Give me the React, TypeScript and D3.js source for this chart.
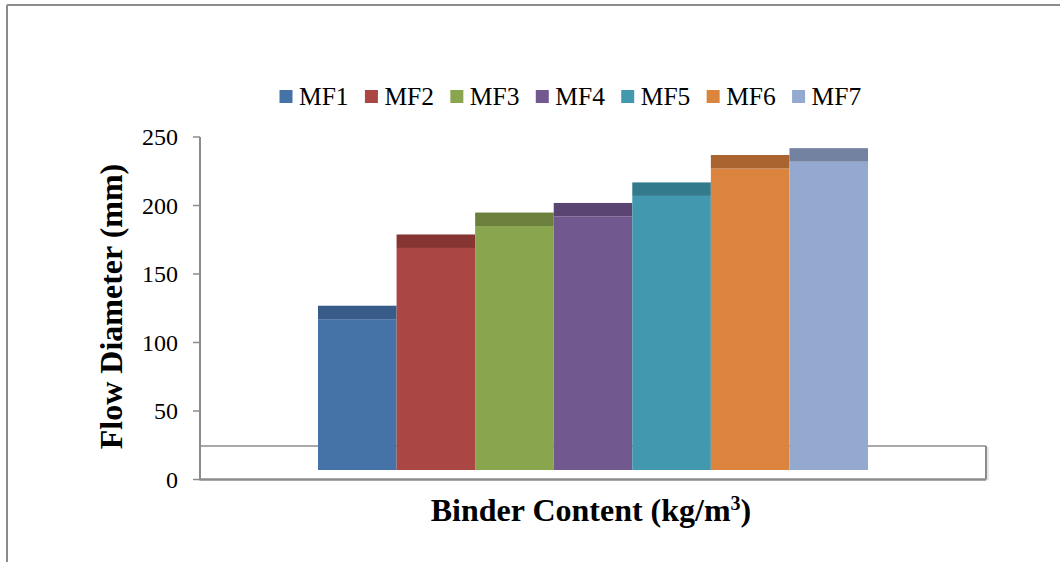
import React from "react";
import * as d3 from "d3";

const series = ["MF1", "MF2", "MF3", "MF4", "MF5", "MF6", "MF7"];
const values = [117, 169, 185, 192, 207, 227, 232];
const frontColors = ["#4572A7", "#AA4643", "#89A54E", "#71588F", "#4198AF", "#DB843D", "#93A9CF"];
const topColors = ["#385C89", "#873533", "#6B803C", "#5A4572", "#337A8C", "#AA6430", "#7282A0"];
const yTicks = [0, 50, 100, 150, 200, 250];

const W = 1060;
const H = 562;
const axisX = 200;
const floorRight = 986;
const floorBack = 446;
const barBottom = 470;
const depth = 13.5;
const font = "Liberation Serif";
const gray = "#8c8c8c";

export default function App() {
  const y = d3.scaleLinear().domain([0, 250]).range([479.5, 137]);
  const x = d3.scaleBand<string>().domain(series).range([318, 868]).padding(0);
  const legendX = d3.scaleBand<string>().domain(series).range([279.5, 877.5]).padding(0);

  return (
    <svg
      width={W}
      height={H}
      style={{ position: "absolute", left: 0, top: 0, background: "#fff" }}
    >
      {/* outer frame */}
      <line x1={7} y1={5} x2={W} y2={5} stroke={gray} strokeWidth={2} />
      <line x1={7} y1={5} x2={7} y2={H} stroke={gray} strokeWidth={2} />

      {/* floor */}
      <line x1={axisX} y1={floorBack} x2={floorRight} y2={floorBack} stroke={gray} strokeWidth={1.5} />
      <line x1={floorRight} y1={floorBack} x2={floorRight} y2={y(0)} stroke={gray} strokeWidth={2} />
      <line x1={floorRight + 2} y1={floorBack + 1} x2={floorRight + 2} y2={y(0) + 1} stroke="#d0d0d0" strokeWidth={1} />

      {/* bars */}
      {series.map((s, i) => {
        const x0 = x(s)!;
        const bw = x.bandwidth();
        const yt = y(values[i]);
        return (
          <g key={s}>
            <rect x={x0} y={yt} width={bw} height={barBottom - yt} fill={frontColors[i]} />
            <rect x={x0} y={yt - depth} width={bw} height={depth} fill={topColors[i]} />
          </g>
        );
      })}

      {/* y axis */}
      <line x1={axisX} y1={y(250)} x2={axisX} y2={y(0) + 1} stroke={gray} strokeWidth={2} />
      <line x1={axisX} y1={y(0)} x2={floorRight} y2={y(0)} stroke={gray} strokeWidth={2.5} />
      {yTicks.map((t) => (
        <g key={t}>
          <line x1={193} y1={y(t)} x2={axisX} y2={y(t)} stroke={gray} strokeWidth={1.5} />
          <text
            x={178}
            y={y(t) + 8}
            textAnchor="end"
            fontFamily={font}
            fontSize={24}
            fill="#000"
          >
            {t}
          </text>
        </g>
      ))}

      {/* legend */}
      {series.map((s, i) => {
        const lx = legendX(s)!;
        return (
          <g key={"lg" + s}>
            <rect x={lx} y={90} width={13} height={13} fill={frontColors[i]} />
            <text x={lx + 19.5} y={105} fontFamily={font} fontSize={25.5} fill="#000">
              {s}
            </text>
          </g>
        );
      })}

      {/* axis titles */}
      <text
        x={591}
        y={521}
        textAnchor="middle"
        fontFamily={font}
        fontSize={32}
        fontWeight="bold"
        fill="#000"
      >
        Binder Content (kg/m
        <tspan fontSize={20} dy={-11}>3</tspan>
        <tspan dy={11}>)</tspan>
      </text>
      <text
        transform={`translate(122, 306.5) rotate(-90)`}
        textAnchor="middle"
        fontFamily={font}
        fontSize={32}
        fontWeight="bold"
        fill="#000"
      >
        Flow Diameter (mm)
      </text>
    </svg>
  );
}
